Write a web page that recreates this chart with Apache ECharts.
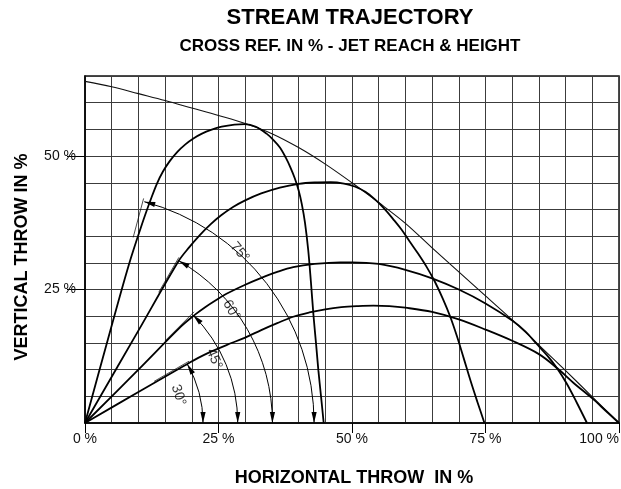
<!DOCTYPE html>
<html>
<head>
<meta charset="utf-8">
<script src="https://cdn.jsdelivr.net/npm/echarts@6/dist/echarts.min.js"></script>
<style>
html, body { margin: 0; padding: 0; background: #fff; }
#chart { width: 621px; height: 489px; }
</style>
</head>
<body>
<div id="chart"></div>
<script>
// stream paths: [horizontal throw %, vertical throw %]
var traj75 = [[0,0],[4,14.6],[8.2,29.6],[11,38.2],[12.4,42.1],[13.5,44.9],[14.6,47.1],[15.9,49.1],[17.3,50.8],[18.8,52.2],[20.3,53.3],[21.9,54.2],[23.6,54.9],[25.6,55.5],[28,55.9],[30,56],[32,55.5],[34,54.2],[35.3,53],[36.5,51.6],[37.6,49.7],[38.5,47.8],[39.3,45.8],[40,43.6],[40.6,41],[41.2,37.5],[41.8,32.4],[42.3,26.5],[42.8,20],[43.3,14.5],[43.7,9.9],[44.2,5],[44.7,0]];
var traj60 = [[0,0],[10,17.3],[17.5,30.3],[19.5,32.9],[21.5,35.2],[23.5,37.2],[25.5,38.9],[27.8,40.5],[30,41.7],[33,43],[36.5,44.1],[40,44.8],[43,45.05],[46,45.1],[48.5,44.85],[50.5,44.3],[52.5,43.3],[54.3,41.9],[56,40.2],[57.7,38.2],[59.3,36.2],[60.8,34],[62.4,31.7],[64,29.2],[65.5,26.5],[67,23.3],[68.4,19.9],[69.7,16.1],[70.9,12.2],[72.2,7.9],[73.5,3.9],[74.8,0]];
var traj45 = [[0,0],[10,10],[18,18.1],[20.6,20.3],[22.5,21.7],[24.5,23],[26.5,24.2],[30,25.9],[32.8,27.1],[36,28.3],[39,29.2],[43,29.8],[47.8,30.1],[50,30.1],[55,29.8],[60,28.7],[65,27.1],[70,25],[75,22.4],[80,19.2],[82.5,17.1],[84.6,14.8],[86.5,12.7],[88.3,10.4],[90.2,7.4],[92.1,3.8],[94,0]];
var traj30 = [[0,0],[10,5.8],[17.5,10.1],[19.4,11.2],[21.2,12.2],[23,13.1],[26.5,14.6],[30,16],[33,17.4],[36,18.7],[39,19.9],[42,20.7],[45,21.3],[48,21.7],[51,21.9],[54,22],[57,21.9],[60,21.6],[65,20.8],[70,19.4],[75,17.5],[80,15.4],[85,12.9],[88.5,10.2],[91.5,7.5],[95,4.6],[97.5,2.3],[100,0]];
var envelope = [[0,64],[5,63],[10,61.7],[15,60.4],[20,59],[25,57.6],[30,56.1],[35,54.2],[40,51.6],[45,48.5],[50,45],[55,41.3],[60,37.4],[65,32.8],[70,28.3],[75,23.8],[80,19.3],[85,14.6],[90,9.8],[95,4.9],[100,0]];

// angle dimension arcs: [launch angle deg, arc radius %]
var arcs = [[75,42.9],[60,35.1],[45,28.6],[30,22.1]];
// angle captions: [x %, y %, caption]
var angleText = [[29,32,'75°'],[27.4,21.1,'60°'],[24.2,12,'45°'],[17.5,5.2,'30°']];
var angleTilt = [-50, -60, -67, -72];

var xTicks = [0, 25, 50, 75, 100];
var yTicks = [25, 50];

var chart = echarts.init(document.getElementById('chart'));
var sans = 'Liberation Sans, Arial, sans-serif';

function trajSeries(data, w) {
    return {
        type: 'line', data: data, symbol: 'none', smooth: 0.35,
        lineStyle: { color: '#000', width: w }, silent: true
    };
}

function renderArc(params, api) {
    var ang = api.value(0) * Math.PI / 180, r = api.value(1);
    var o = api.coord([0, 0]);
    var R = api.size([r, 0])[0];
    var s = Math.sin(ang), c = Math.cos(ang);
    var tip = [o[0] + R * c, o[1] - R * s];
    var L = 11, W = 2.6;
    // head at the launch line, pointing counter-clockwise
    var b1 = [tip[0] + L * s, tip[1] + L * c];
    var head1 = [tip, [b1[0] + W * c, b1[1] - W * s], [b1[0] - W * c, b1[1] + W * s]];
    // head at the ground, pointing down
    var end = [o[0] + R, o[1]];
    var head2 = [end, [end[0] - W, end[1] - L], [end[0] + W, end[1] - L]];
    // short witness line along the true launch angle
    var n = [-s * 1.5, -c * 1.5];
    var r0 = api.size([r - 7, 0])[0], r1 = R + 3;
    return {
        type: 'group',
        children: [
            { type: 'arc', shape: { cx: o[0], cy: o[1], r: R, startAngle: -ang, endAngle: 0, clockwise: true },
              style: { stroke: '#000', lineWidth: 1, fill: null } },
            { type: 'polygon', shape: { points: head1 }, style: { fill: '#000' } },
            { type: 'polygon', shape: { points: head2 }, style: { fill: '#000' } },
            { type: 'line', shape: { x1: o[0] + r0 * c + n[0], y1: o[1] - r0 * s + n[1], x2: o[0] + r1 * c + n[0], y2: o[1] - r1 * s + n[1] },
              style: { stroke: '#000', lineWidth: 0.7 } }
        ]
    };
}

var gridLine = { lineStyle: { color: '#3c3c3c', width: 1 } };

option = {
    animation: false,
    backgroundColor: '#fff',
    grid: { left: 85, right: 2, top: 76, bottom: 66, outerBoundsMode: 'none',
            show: true, borderColor: '#111', borderWidth: 1.5 },
    xAxis: [
        { type: 'value', min: 0, max: 100, interval: 5,
          axisLine: { show: false }, axisTick: { show: false }, axisLabel: { show: false },
          splitLine: gridLine },
        { type: 'value', min: 0, max: 100, interval: 5, position: 'bottom',
          axisLine: { lineStyle: { color: '#000', width: 1.5 } },
          axisTick: { customValues: xTicks, length: 10, lineStyle: { color: '#000' } },
          axisLabel: { customValues: xTicks, margin: 9, fontSize: 14, color: '#111', fontFamily: sans,
                       alignMaxLabel: 'right',
                       formatter: function (v) { return v + ' %'; } },
          splitLine: { show: false } }
    ],
    yAxis: [
        { type: 'value', min: 0, max: 65, interval: 5,
          axisLine: { show: false }, axisTick: { show: false }, axisLabel: { show: false },
          splitLine: gridLine },
        { type: 'value', min: 0, max: 65, interval: 5, position: 'left',
          axisLine: { lineStyle: { color: '#000', width: 1.5 } },
          axisTick: { customValues: yTicks, length: 18, lineStyle: { color: '#000' } },
          axisLabel: { customValues: yTicks, margin: 9, fontSize: 14, color: '#111', fontFamily: sans,
                       formatter: function (v) { return v + ' %'; } },
          splitLine: { show: false } }
    ],
    graphic: [
        { type: 'text', x: 350, y: 18, style: { text: 'STREAM TRAJECTORY', font: 'bold 22px ' + sans, fill: '#000', align: 'center', verticalAlign: 'middle' } },
        { type: 'text', x: 350, y: 46, style: { text: 'CROSS REF. IN % - JET REACH & HEIGHT', font: 'bold 17px ' + sans, fill: '#000', align: 'center', verticalAlign: 'middle' } },
        { type: 'text', x: 354, y: 478, style: { text: 'HORIZONTAL THROW  IN %', font: 'bold 18px ' + sans, fill: '#000', align: 'center', verticalAlign: 'middle' } },
        { type: 'text', x: 22, y: 257, rotation: Math.PI / 2, style: { text: 'VERTICAL THROW IN %', font: 'bold 18px ' + sans, fill: '#000', align: 'center', verticalAlign: 'middle' } }
    ],
    series: [
        { type: 'line', data: envelope, symbol: 'none', smooth: 0.35, lineStyle: { color: '#111', width: 1.1 }, silent: true },
        trajSeries(traj75, 1.8),
        trajSeries(traj60, 1.8),
        trajSeries(traj45, 1.8),
        trajSeries(traj30, 1.8),
        { type: 'custom', data: arcs, renderItem: renderArc, silent: true, clip: false },
        {
            type: 'scatter', symbolSize: 0, silent: true,
            data: angleText.map(function (d, i) {
                return { value: [d[0], d[1]], name: d[2], label: { rotate: angleTilt[i] } };
            }),
            label: { show: true, position: 'inside', formatter: '{b}', fontSize: 14, color: '#000', fontFamily: sans }
        }
    ]
};
chart.setOption(option);
</script>
</body>
</html>
